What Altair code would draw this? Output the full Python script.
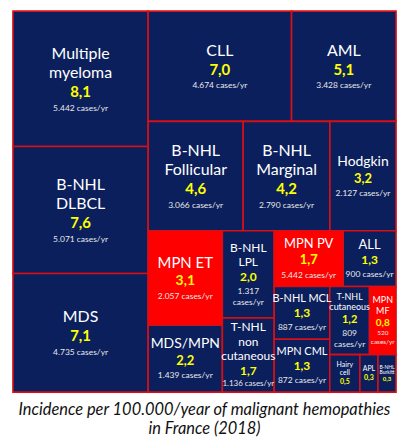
import altair as alt
import pandas as pd

# ---------------- data ----------------
names = ["Multiple myeloma", "B-NHL DLBCL", "MDS", "CLL", "AML",
         "B-NHL Follicular", "B-NHL Marginal", "Hodgkin", "MPN ET", "MDS/MPN",
         "B-NHL LPL", "T-NHL non cutaneous", "MPN PV", "ALL", "B-NHL MCL",
         "MPN CML", "T-NHL cutaneous", "MPN MF", "Hairy cell", "APL", "B-NHL Burkitt"]
labels = ["Multiple\nmyeloma", "B-NHL\nDLBCL", "MDS", "CLL", "AML",
          "B-NHL\nFollicular", "B-NHL\nMarginal", "Hodgkin", "MPN ET", "MDS/MPN",
          "B-NHL\nLPL", "T-NHL\nnon\ncutaneous", "MPN PV", "ALL", "B-NHL MCL",
          "MPN CML", "T-NHL\ncutaneous", "MPN\nMF", "Hairy\ncell", "APL", "B-NHL\nBurkitt"]
incidence = [8.1, 7.6, 7.1, 7.0, 5.1, 4.6, 4.2, 3.2, 3.1, 2.2,
             2.0, 1.7, 1.7, 1.3, 1.3, 1.3, 1.2, 0.8, 0.5, 0.3, 0.3]
cases = ["5.442", "5.071", "4.735", "4.674", "3.428", "3.066", "2.790", "2.127", "2.057", "1.439",
         "1.317", "1.136", "5.442", "900", "887", "872", "809", "520", "", "", ""]
group = ["other", "other", "other", "other", "other", "other", "other", "other", "MPN", "other",
         "other", "other", "MPN", "other", "other", "other", "other", "MPN", "other", "other", "other"]
title_lines = ["Incidence per 100.000/year of malignant hemopathies", "in France (2018)"]

# ---------------- treemap structure (squarified order) ----------------
tree = ("h", [
    ("v", ["Multiple myeloma", "B-NHL DLBCL", "MDS"]),
    ("v", [
        ("h", ["CLL", "AML"]),
        ("v", [
            ("h", ["B-NHL Follicular", "B-NHL Marginal", "Hodgkin"]),
            ("h", [
                ("v", ["MPN ET", "MDS/MPN"]),
                ("v", ["B-NHL LPL", "T-NHL non cutaneous"]),
                ("v", [
                    ("h", ["MPN PV", "ALL"]),
                    ("h", [
                        ("v", ["B-NHL MCL", "MPN CML"]),
                        ("v", [
                            ("h", ["T-NHL cutaneous", "MPN MF"]),
                            ("h", ["Hairy cell", "APL", "B-NHL Burkitt"]),
                        ]),
                    ]),
                ]),
            ]),
        ]),
    ]),
])

val = dict(zip(names, incidence))


def total(node):
    if isinstance(node, str):
        return val[node]
    return sum(total(c) for c in node[1])


rects = {}


def layout(node, x0, y0, x1, y1):
    if isinstance(node, str):
        rects[node] = (x0, y0, x1, y1)
        return
    d, children = node
    t = total(node)
    pos = x0 if d == "h" else y0
    for c in children:
        frac = total(c) / t
        if d == "h":
            w = (x1 - x0) * frac
            layout(c, pos, y0, pos + w, y1)
        else:
            w = (y1 - y0) * frac
            layout(c, x0, pos, x1, pos + w)
        pos += w


W, H = 385, 383
layout(tree, 0, 0, W, H)

# ---------------- text styles (name, value, cases font sizes) ----------------
fs = {
    "Multiple myeloma": (16, 15, 8.5), "B-NHL DLBCL": (16, 15, 8.5), "MDS": (16, 15, 8.5),
    "CLL": (16, 15, 8.5), "AML": (16, 15, 8.5), "B-NHL Follicular": (16, 15, 8.5),
    "B-NHL Marginal": (16, 15, 8.5), "Hodgkin": (14, 13, 8.5), "MPN ET": (15, 14, 8.5),
    "MDS/MPN": (14, 13, 8.5), "B-NHL LPL": (12, 12, 8.5), "T-NHL non cutaneous": (12, 12, 8),
    "MPN PV": (13, 13, 8.5), "ALL": (13, 12, 8.5), "B-NHL MCL": (11, 12, 8.5),
    "MPN CML": (11, 12, 8.5), "T-NHL cutaneous": (9, 11, 8.5), "MPN MF": (9, 10, 6.5),
    "Hairy cell": (7, 7, 6), "APL": (7, 7, 6), "B-NHL Burkitt": (5, 6, 5),
}
wrap_cases = {"B-NHL LPL", "T-NHL cutaneous", "MPN MF"}

NAVY = "#0b1f5c"
RED = "#ff0000"
BORDER = "#d80f16"
FONT = "Lato"

rect_rows = []
text_rows = []
for n, lab, v, c, g in zip(names, labels, incidence, cases, group):
    x0, y0, x1, y1 = rects[n]
    rect_rows.append(dict(name=n, x0=x0, y0=y0, x1=x1, y1=y1, group=g))
    s_name, s_val, s_case = fs[n]
    lines = []
    for part in lab.split("\n"):
        lines.append((part, s_name, s_name * 1.2, "white", "normal"))
    lines.append((f"{v:.1f}".replace(".", ","), s_val, s_val * 1.3, "#ffff00", "bold"))
    if c:
        if n in wrap_cases:
            lines.append((c, s_case, s_case * 1.35, "#e8e8e8", "normal"))
            lines.append(("cases/yr", s_case, s_case * 1.35, "#e8e8e8", "normal"))
        else:
            lines.append((f"{c} cases/yr", s_case, s_case * 1.4, "#e8e8e8", "normal"))
    tot_h = sum(l[2] for l in lines)
    cy = (y0 + y1) / 2 - tot_h / 2
    cx = (x0 + x1) / 2
    for txt, sz, lh, col, wt in lines:
        text_rows.append(dict(tx=cx, ty=cy + lh / 2, text=txt, size=sz, color=col, weight=wt))
        cy += lh

rdf = pd.DataFrame(rect_rows)
tdf = pd.DataFrame(text_rows)

xs = alt.Scale(domain=[0, W], nice=False, zero=False)
ys = alt.Scale(domain=[0, H], nice=False, zero=False, reverse=True)

rect_layer = alt.Chart(rdf).mark_rect(stroke=BORDER, strokeWidth=1.6).encode(
    x=alt.X("x0:Q", scale=xs, axis=None),
    x2="x1:Q",
    y=alt.Y("y0:Q", scale=ys, axis=None),
    y2="y1:Q",
    color=alt.Color("group:N", scale=alt.Scale(domain=["other", "MPN"], range=[NAVY, RED]), legend=None),
)

base_text = alt.Chart(tdf).encode(
    x=alt.X("tx:Q", scale=xs, axis=None),
    y=alt.Y("ty:Q", scale=ys, axis=None),
    text="text:N",
    size=alt.Size("size:Q", scale=None),
    color=alt.Color("color:N", scale=None),
)
text_normal = base_text.transform_filter(alt.datum.weight == "normal").mark_text(
    font=FONT, align="center", baseline="middle")
text_bold = base_text.transform_filter(alt.datum.weight == "bold").mark_text(
    font=FONT, fontWeight="bold", align="center", baseline="middle")

chart = alt.layer(rect_layer, text_normal, text_bold).properties(
    width=W, height=H,
    padding={"left": 4, "top": 1, "right": 2, "bottom": 4},
    title=alt.TitleParams(text=title_lines, orient="bottom", anchor="middle",
                          font=FONT, fontStyle="italic", fontWeight="normal",
                          fontSize=16.5, lineHeight=19, color="#111111", offset=9),
).configure_view(stroke=None).configure(background="white")

chart.save("out.html", embed_options={"renderer": "svg", "actions": False})
